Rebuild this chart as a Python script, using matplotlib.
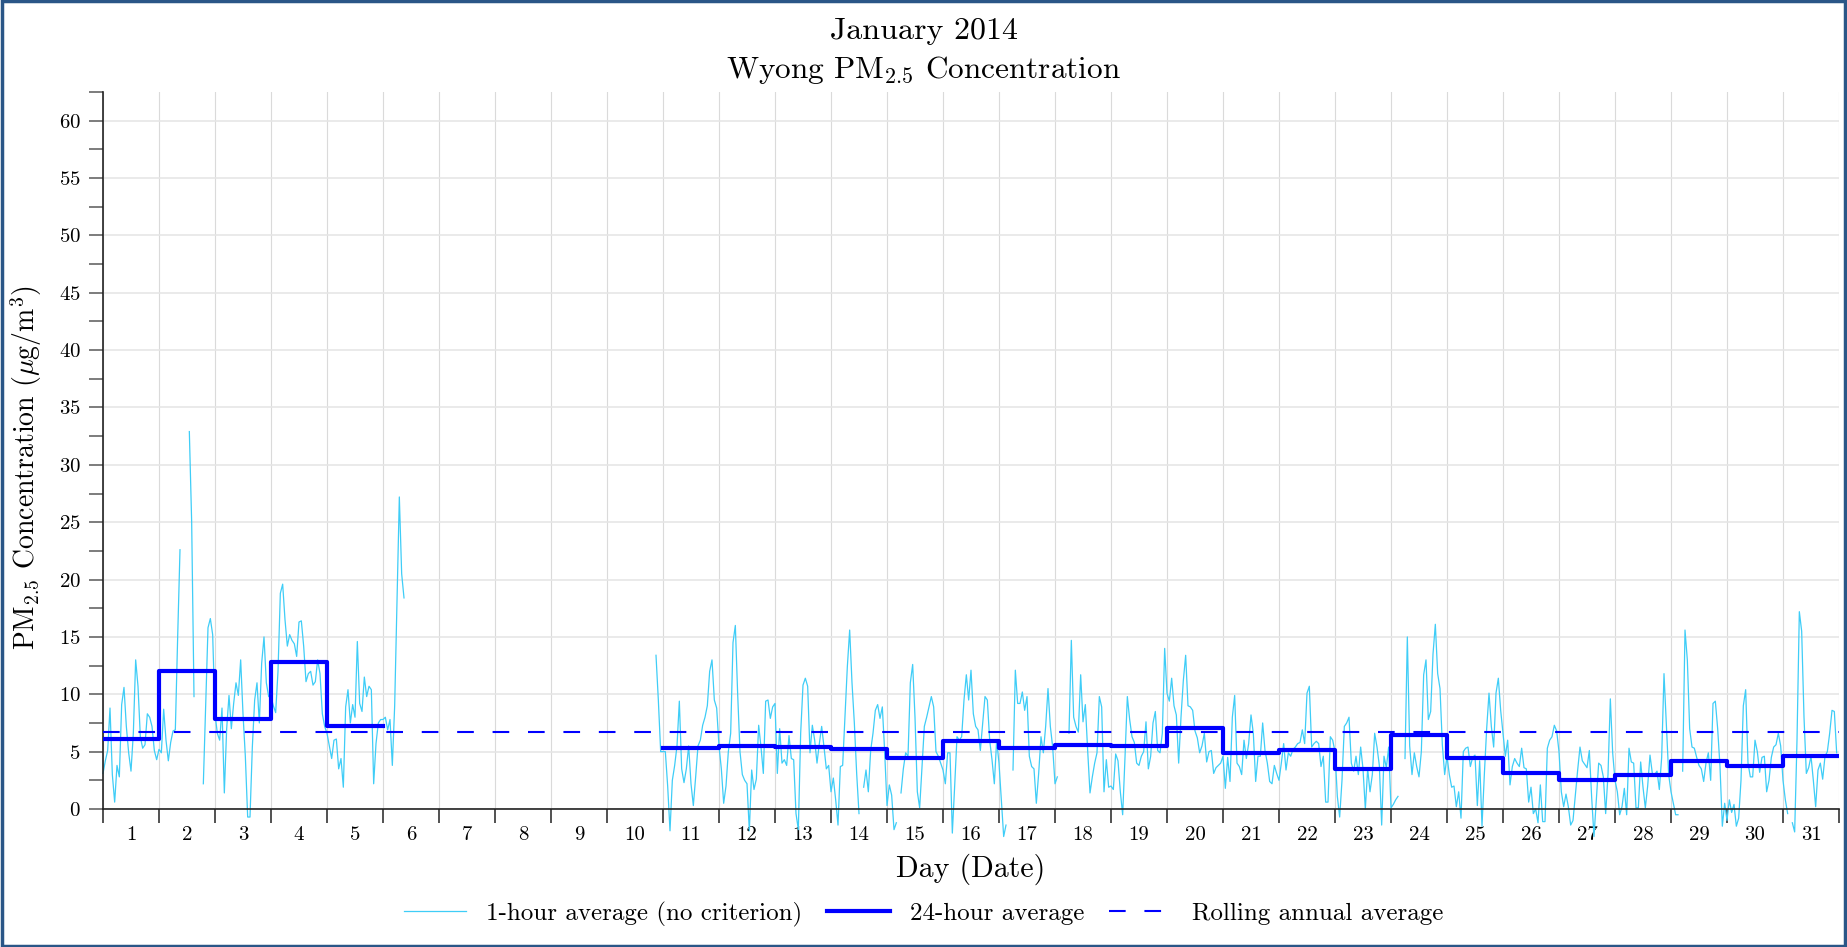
import numpy as np
import matplotlib
matplotlib.use('Agg')
import matplotlib.pyplot as plt
from matplotlib.ticker import MultipleLocator, FixedLocator, NullFormatter
from matplotlib.patches import Rectangle

nan = np.nan

# Datos (PM2.5, ug/m3)
day_labels = [str(d) for d in range(1, 32)]

# 1-hour average, one row per day (24 hours)
hourly_rows = [
    [3.1, 4.2, 5.1, 8.8, 3.0, 0.6, 3.8, 2.8, 9.1, 10.6, 7.2, 4.9, 3.3, 6.6, 13.0, 10.7, 6.3, 5.3, 5.6, 8.3, 8.0, 7.2, 5.1, 4.3],
    [5.2, 4.9, 8.7, 6.0, 4.2, 5.8, 6.8, 6.9, 15.0, 22.6, nan, nan, nan, 32.9, 25.0, 9.8, nan, nan, nan, 2.2, 9.0, 15.8, 16.6, 15.2],
    [8.3, 6.6, 6.0, 8.8, 1.4, 7.0, 9.9, 7.0, 9.2, 11.0, 9.9, 13.0, 8.3, 4.6, -0.7, -0.7, 5.4, 9.5, 11.0, 7.5, 12.7, 15.0, 11.0, 9.8],
    [9.8, 9.0, 8.4, 12.0, 18.8, 19.6, 16.5, 14.2, 15.2, 14.7, 14.4, 13.3, 16.3, 16.4, 14.2, 11.1, 11.8, 12.0, 10.8, 11.1, 13.0, 11.8, 8.3, 7.2],
    [6.6, 5.5, 4.4, 6.0, 6.1, 3.5, 4.4, 1.9, 8.9, 10.4, 7.5, 9.1, 8.0, 14.6, 9.2, 8.5, 11.5, 9.8, 10.7, 10.4, 2.2, 5.7, 7.5, 7.8],
    [7.8, 8.0, 6.9, 7.8, 3.8, 9.0, 18.0, 27.2, 20.5, 18.4] + [nan] * 14,
    [nan] * 24,
    [nan] * 24,
    [nan] * 24,
    [nan] * 21 + [13.4, 9.5, 5.0],
    [5.0, 5.0, 2.0, -1.9, 2.5, 3.8, 5.5, 9.4, 3.5, 2.3, 3.5, 5.5, 2.2, 0.3, 2.8, 5.5, 6.0, 7.3, 8.0, 9.0, 12.0, 13.0, 9.5, 8.8],
    [5.5, 3.5, 0.5, 2.0, 5.0, 6.6, 14.5, 16.0, 10.0, 5.0, 3.0, 2.5, 2.2, -1.9, 3.4, 1.7, 2.6, 7.3, 5.4, 3.1, 9.4, 9.5, 7.9, 8.9],
    [9.2, 3.1, 7.0, 4.0, 4.3, 3.8, 6.4, 4.4, 4.3, -0.4, -1.8, 6.6, 10.8, 11.4, 10.7, 4.9, 7.3, 6.0, 4.0, 5.7, 7.2, 5.4, 3.5, 3.8],
    [1.5, 2.7, 0.8, -1.4, 3.7, 3.8, 8.0, 12.4, 15.6, 11.0, 7.5, 3.1, -0.4, nan, 1.9, 3.4, 1.5, 5.1, 6.6, 8.6, 9.1, 7.9, 8.9, 5.0],
    [0.3, 2.1, 1.2, -1.8, -1.2, nan, 1.4, 3.5, 4.9, 4.6, 11.0, 12.6, 8.0, 1.5, 0.1, 3.7, 7.2, 8.0, 8.9, 9.8, 8.9, 5.0, 4.6, 4.0],
    [3.4, 2.2, 4.9, 4.9, -2.1, 2.0, 6.3, 6.0, 6.3, 9.5, 11.7, 9.5, 12.1, 8.3, 7.2, 6.9, 5.1, 7.5, 9.8, 9.5, 6.0, 4.3, 2.2, 6.0],
    [4.0, 0.8, -2.4, -1.4, nan, nan, 3.4, 12.1, 9.2, 9.2, 10.2, 8.6, 9.8, 4.6, 3.7, 3.5, 0.5, 3.1, 6.3, 4.9, 7.2, 10.5, 7.2, 5.4],
    [2.2, 2.8, nan, nan, nan, nan, 6.6, 14.7, 8.0, 7.2, 6.7, 11.7, 7.6, 9.1, 5.1, 1.4, 2.8, 4.0, 4.9, 9.8, 8.9, 1.5, 4.3, 1.9],
    [2.0, 1.7, 4.8, 4.2, 1.5, -0.5, 4.5, 9.8, 7.8, 6.3, 5.8, 4.0, 3.8, 4.6, 5.0, 7.6, 3.5, 4.6, 7.5, 8.5, 5.1, 4.9, 6.6, 14.0],
    [10.1, 9.4, 11.4, 9.0, 8.2, 4.0, 8.0, 11.2, 13.4, 9.0, 8.9, 8.6, 6.8, 6.2, 4.9, 5.5, 6.6, 4.1, 5.0, 5.1, 3.1, 3.6, 3.8, 4.0],
    [4.6, 1.8, 4.5, 2.4, 8.0, 9.9, 4.0, 3.7, 3.0, 6.0, 4.4, 5.7, 8.2, 6.6, 2.4, 4.6, 4.6, 7.5, 5.1, 4.0, 2.4, 2.2, 3.8, 3.1],
    [2.5, 4.0, 5.7, 3.4, 4.9, 4.6, 5.2, 5.4, 5.7, 5.8, 6.9, 5.7, 10.1, 10.7, 5.4, 5.7, 5.9, 5.7, 3.7, 4.6, 0.6, 0.6, 6.3, 6.0],
    [5.0, 1.1, -0.7, 2.5, 7.2, 7.5, 8.0, 4.0, 3.3, 4.6, 3.0, 5.4, 3.5, 0.0, 3.5, 1.5, 3.0, 6.6, 5.4, 3.8, -1.4, 4.6, 3.6, 5.4],
    [0.1, 0.4, 0.8, 1.1, nan, nan, 4.4, 15.0, 5.5, 3.0, 4.9, 3.7, 2.8, 5.0, 11.7, 13.0, 7.8, 8.5, 13.5, 16.1, 11.8, 10.5, 5.6, 3.0],
    [4.6, 3.0, 1.9, 2.0, 0.2, 1.5, -0.8, 5.0, 5.3, 5.4, 3.7, 4.5, 4.7, 0.3, 4.2, -1.5, 3.0, 7.0, 10.1, 7.2, 5.4, 10.1, 11.4, 8.6],
    [6.6, 4.6, 6.0, 2.1, 3.7, 4.4, 4.0, 3.7, 5.3, 3.6, 3.5, 0.6, 1.9, -0.4, 0.0, -1.2, 2.1, -1.1, -1.1, 5.3, 6.0, 6.3, 7.3, 6.8],
    [5.0, 1.5, 0.2, 1.3, 0.2, -1.4, -1.0, 1.2, 3.4, 5.4, 4.2, 3.9, 3.6, 5.1, 1.0, -2.4, 0.8, 4.0, 3.8, 2.8, -0.4, 3.0, 9.6, 4.9],
    [2.5, 1.5, -0.5, 0.2, 1.8, -0.5, 5.3, 4.1, 4.0, 0.1, 0.1, 4.1, 1.9, 0.1, 2.0, 4.7, 3.1, 3.0, 3.3, 1.7, 4.5, 11.8, 7.5, 3.0],
    [1.5, 0.5, -0.5, -0.5, nan, 3.3, 15.6, 13.0, 7.0, 5.4, 5.3, 4.5, 3.8, 3.5, 2.4, 4.0, 4.9, 2.5, 9.2, 9.4, 7.0, 3.7, -1.5, 0.5],
    [-1.0, 0.8, -0.3, 0.4, -1.5, -0.8, 2.5, 9.0, 10.4, 4.0, 2.8, 2.8, 6.0, 5.0, 3.2, 4.5, 4.6, 1.5, 2.5, 4.5, 5.4, 5.6, 6.6, 5.5],
    [2.5, 0.8, -0.4, nan, -1.2, -2.0, 6.0, 17.2, 15.5, 8.0, 3.1, 3.6, 4.6, 2.5, 0.2, 3.4, 4.0, 2.6, 4.6, 5.0, 6.6, 8.6, 8.5, 4.9],
]

# 24-hour average per day
daily_24h = [6.1, 12.0, 7.85, 12.8, 7.25, nan, nan, nan, nan, nan,
             5.35, 5.5, 5.4, 5.23, 4.45, 5.93, 5.29, 5.58, 5.47, 7.03,
             4.85, 5.17, 3.46, 6.42, 4.45, 3.17, 2.53, 2.94, 4.18, 3.75, 4.59]

rolling_annual = 6.71

# Estilo de letra tipo LaTeX
plt.rcParams['font.family'] = ['cmr10', 'DejaVu Serif']
plt.rcParams['mathtext.fontset'] = 'cm'
plt.rcParams['axes.formatter.use_mathtext'] = True

hourly = np.array(hourly_rows, dtype=float).ravel()
t_hours = np.arange(hourly.size) / 24.0
day_edges = np.arange(len(daily_24h) + 1)
daily_ext = np.append(daily_24h, daily_24h[-1])

fig = plt.figure(figsize=(18.47, 9.47), dpi=100)
ax = fig.add_axes([103 / 1847, 1 - 809 / 947, (1839 - 103) / 1847, (809 - 92) / 947])

l1, = ax.plot(t_hours, hourly, color='#3fcdf7', lw=0.9, clip_on=False, zorder=2)
l2, = ax.step(day_edges, daily_ext, where='post', color='#0000ff', lw=3.0, zorder=3)
l3 = ax.axhline(rolling_annual, color='#0000ff', lw=1.5, dashes=(8, 9), zorder=3)

ax.set_xlim(0, 31)
ax.set_ylim(0, 62.5)

# Eje x: marcas en los limites de cada dia, etiquetas en el centro
ax.xaxis.set_major_locator(MultipleLocator(1))
ax.xaxis.set_major_formatter(NullFormatter())
ax.xaxis.set_minor_locator(FixedLocator(np.arange(31) + 0.5))
ax.set_xticklabels(day_labels, minor=True)
ax.tick_params(axis='x', which='major', length=10, width=1.2, color='#333333')
ax.tick_params(axis='x', which='minor', length=0, pad=12, labelsize=15)

# Eje y
ax.yaxis.set_major_locator(MultipleLocator(5))
ax.yaxis.set_minor_locator(MultipleLocator(2.5))
ax.tick_params(axis='y', which='both', length=10, width=1.2, color='#666666', labelsize=15, pad=6)

# Rejillas
ax.grid(axis='x', which='major', color='#dadada', lw=0.8)
ax.grid(axis='y', which='major', color='#e6e6e6', lw=1.2)
ax.set_axisbelow(True)

for s in ['top', 'right']:
    ax.spines[s].set_visible(False)
ax.spines['left'].set_color('#222222')
ax.spines['bottom'].set_color('#222222')
ax.spines['left'].set_linewidth(1.2)
ax.spines['bottom'].set_linewidth(1.2)

# Titulos
fig.text(0.5, 1 - 31 / 947, 'January 2014', ha='center', va='center', fontsize=23)
fig.text(0.5, 1 - 70 / 947, 'Wyong PM$_{2.5}$ Concentration', ha='center', va='center', fontsize=22.5)
ax.set_xlabel('Day (Date)', fontsize=21.5, labelpad=7)
fig.text(26 / 1847, 1 - 468 / 947, r'PM$_{2.5}$ Concentration ($\mu$g/m$^3$)', rotation=90,
         ha='center', va='center', fontsize=20)

fig.legend([l1, l2, l3],
           ['1-hour average (no criterion)', '24-hour average', 'Rolling annual average'],
           loc='center', bbox_to_anchor=(0.5, 1 - 914 / 947), ncol=3, frameon=False,
           fontsize=18, handlelength=2.5, handletextpad=0.8, columnspacing=1.0)

# Borde exterior
fig.patches.append(Rectangle((0.001, 0.0015), 0.998, 0.997, transform=fig.transFigure,
                             fill=False, edgecolor='#2a5687', lw=2.5))

fig.savefig('out.png', dpi=100)
